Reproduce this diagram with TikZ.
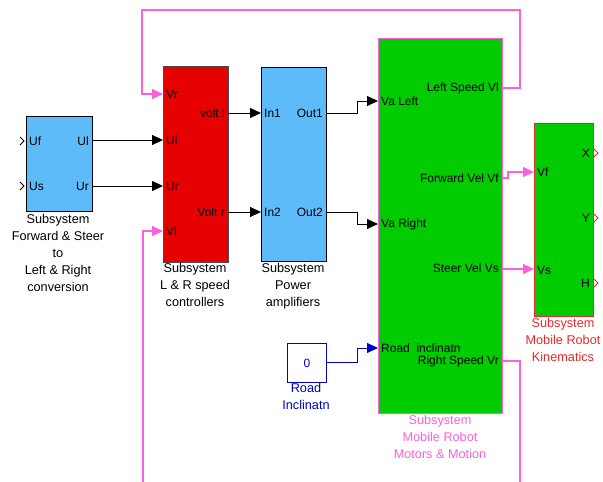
\documentclass[tikz,border=0pt]{standalone}
\usepackage{fontspec}
\setmainfont{Liberation Sans}
\usetikzlibrary{arrows.meta}
\definecolor{sblue}{RGB}{94,187,250}
\definecolor{sred}{RGB}{230,0,0}
\definecolor{sgreen}{RGB}{0,204,0}
\definecolor{spink}{RGB}{255,95,220}
\definecolor{kred}{RGB}{230,40,40}
\definecolor{cblue}{RGB}{0,0,200}
\begin{document}
\begin{tikzpicture}[x=1pt,y=-1pt,
  font=\fontsize{12}{14}\selectfont,
  blk/.style={draw, line width=0.8pt, anchor=north west, inner sep=0pt},
  sig/.style={-{Triangle[length=11pt,width=10pt]}, line width=0.8pt},
  psig/.style={sig, draw=spink, line width=1.1pt},
  pline/.style={draw=spink, line width=1.1pt},
  lp/.style={anchor=west, inner sep=0pt},
  rp/.style={anchor=east, inner sep=0pt},
  capt/.style={anchor=north, align=center, inner sep=0pt, font=\fontsize{12.7}{17}\selectfont}]
\useasboundingbox (0,0) rectangle (603,482);

% blocks
\node[blk, fill=sblue, minimum width=66pt, minimum height=95pt] (fs) at (26,116) {};
\node[blk, fill=sred, draw=black!70, minimum width=65pt, minimum height=196pt] (lr) at (163,66) {};
\node[blk, fill=sblue, minimum width=65pt, minimum height=194pt] (pa) at (261,67) {};
\node[blk, fill=sgreen, draw=spink, minimum width=124pt, minimum height=375pt] (mm) at (378,38) {};
\node[blk, fill=sgreen, draw=kred, minimum width=59pt, minimum height=193pt] (ki) at (534,123) {};
\node[blk, draw=cblue, minimum width=39pt, minimum height=39pt] (ri) at (287,343) {};
\node[text=cblue] at (ri.center) {0};

% port labels
\node[lp] at (29,141) {Uf};
\node[lp] at (29,186) {Us};
\node[rp] at (89,141) {Ul};
\node[rp] at (89,186) {Ur};
\node[lp] at (166,94) {Vr};
\node[lp] at (166,140) {Ul};
\node[lp] at (166,186) {Ur};
\node[lp] at (166,231) {Vl};
\node[rp] at (225,113) {volt l};
\node[rp] at (225,212) {Volt r};
\node[lp] at (264,113) {In1};
\node[lp] at (264,212) {In2};
\node[rp] at (323,113) {Out1};
\node[rp] at (323,212) {Out2};
\node[lp] at (381,101) {Va Left};
\node[lp] at (381,224) {Va Right};
\node[lp] at (381,348) {Road\ \ inclinatn};
\node[rp] at (499,88) {Left Speed Vl};
\node[rp] at (499,178) {Forward Vel Vf};
\node[rp] at (499,268) {Steer Vel Vs};
\node[rp] at (499,361) {Right Speed Vr};
\node[lp] at (537,172) {Vf};
\node[lp] at (537,270) {Vs};
\node[rp] at (590,153) {X};
\node[rp] at (590,218) {Y};
\node[rp] at (590,283) {H};

% captions
\node[capt] at (58,214) {Subsystem\\Forward \& Steer\\to\\Left \& Right\\conversion};
\node[capt] at (195,263) {Subsystem\\L \& R speed\\controllers};
\node[capt] at (293,263) {Subsystem\\Power\\amplifiers};
\node[capt, text=spink] at (440,415) {Subsystem\\Mobile Robot\\Motors \& Motion};
\node[capt, text=kred] at (563,318) {Subsystem\\Mobile Robot\\Kinematics};
\node[capt, text=cblue] at (306,383) {Road\\Inclinatn};

% port coordinates
\coordinate (fsUl) at (92,140);
\coordinate (fsUr) at (92,186);
\coordinate (lrUl) at (163,140);
\coordinate (lrUr) at (163,186);
\coordinate (lrVr) at (163,94);
\coordinate (lrVl) at (163,231);
\coordinate (lrO1) at (228,113);
\coordinate (lrO2) at (228,212);
\coordinate (paI1) at (261,113);
\coordinate (paI2) at (261,212);
\coordinate (paO1) at (326,113);
\coordinate (paO2) at (326,212);
\coordinate (mmVaL) at (378,101);
\coordinate (mmVaR) at (378,224);
\coordinate (mmRd) at (378,348);
\coordinate (mmVl) at (502,88);
\coordinate (mmVf) at (502,178);
\coordinate (mmVs) at (502,269);
\coordinate (mmVr) at (502,361);
\coordinate (kiVf) at (534,172);
\coordinate (kiVs) at (534,269);
\coordinate (riO) at (326,362);
\coordinate (botL) at (143,482);
\coordinate (botR) at (520,482);

% black connectors
\draw[sig] (fsUl) -- (lrUl);
\draw[sig] (fsUr) -- (lrUr);
\draw[sig] (lrO1) -- (paI1);
\draw[sig] (lrO2) -- (paI2);
\draw[sig] (paO1) -- (357,113) -- (357,101) -- (mmVaL);
\draw[sig] (paO2) -- (357,212) -- (357,224) -- (mmVaR);
\draw[sig, draw=cblue] (riO) -- (357,362) -- (357,348) -- (mmRd);

% pink connectors
\draw[psig] (mmVl) -- (520,88) -- (520,10) -- (142,10) -- (142,94) -- (lrVr);
\draw[psig] (mmVf) -- (508,178) -- (508,172) -- (kiVf);
\draw[psig] (mmVs) -- (kiVs);
\draw[psig] (botL) -- (143,231) -- (lrVl);
\draw[pline] (mmVr) -- (520,361) -- (botR);

% in/out chevrons
\draw[line width=0.8pt] (20,137) -- (24,141) -- (20,145);
\draw[line width=0.8pt] (20,182) -- (24,186) -- (20,190);
\draw[kred, line width=0.8pt] (594,149) -- (598,153) -- (594,157);
\draw[kred, line width=0.8pt] (594,214) -- (598,218) -- (594,222);
\draw[kred, line width=0.8pt] (594,279) -- (598,283) -- (594,287);
\end{tikzpicture}
\end{document}
